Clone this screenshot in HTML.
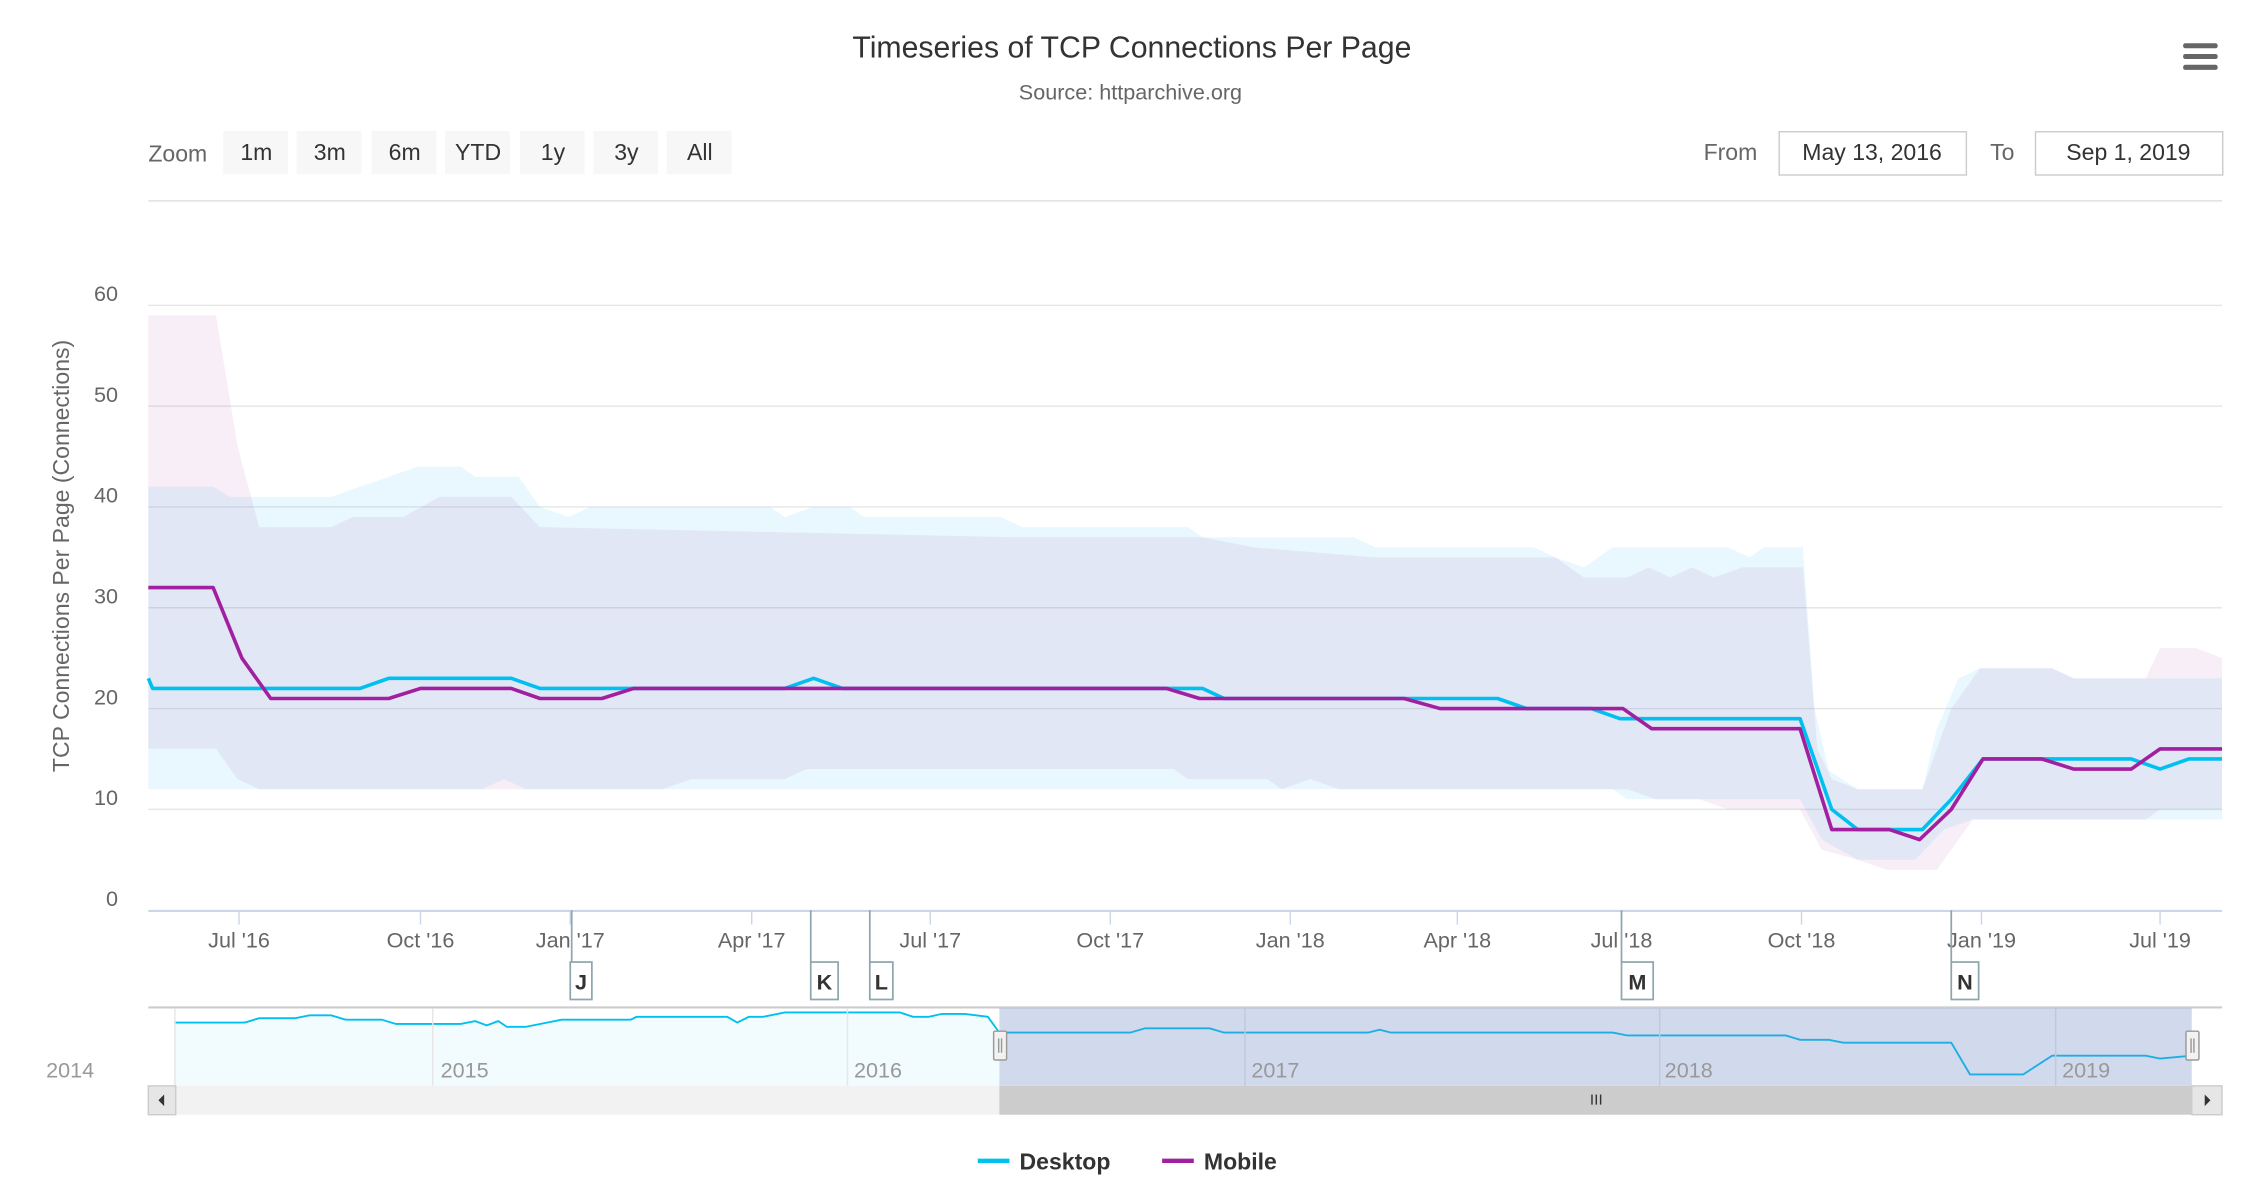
<!DOCTYPE html>
<html><head><meta charset="utf-8"><style>
html,body{margin:0;padding:0;background:#fff;}
svg{display:block;font-family:"Liberation Sans",sans-serif;}
</style></head><body>
<svg width="2258" height="1204" viewBox="0 0 1568 836" preserveAspectRatio="none" xmlns="http://www.w3.org/2000/svg">
<text x="786" y="40" text-anchor="middle" font-size="21" fill="#333">Timeseries of TCP Connections Per Page</text>
<text x="785" y="69" text-anchor="middle" font-size="15" fill="#666">Source: httparchive.org</text>
<g fill="#666"><rect x="1516" y="30" width="24" height="3.5" rx="1.5"/><rect x="1516" y="37.5" width="24" height="3.5" rx="1.5"/><rect x="1516" y="45" width="24" height="3.5" rx="1.5"/></g>
<text x="103" y="112" font-size="16" fill="#666">Zoom</text>
<g font-size="16" fill="#333" text-anchor="middle">
<rect x="155" y="91" width="45" height="30" fill="#f7f7f7"/><text x="178" y="111">1m</text>
<rect x="206" y="91" width="45" height="30" fill="#f7f7f7"/><text x="229" y="111">3m</text>
<rect x="258" y="91" width="45" height="30" fill="#f7f7f7"/><text x="281" y="111">6m</text>
<rect x="309" y="91" width="45" height="30" fill="#f7f7f7"/><text x="332" y="111">YTD</text>
<rect x="361" y="91" width="45" height="30" fill="#f7f7f7"/><text x="384" y="111">1y</text>
<rect x="412" y="91" width="45" height="30" fill="#f7f7f7"/><text x="435" y="111">3y</text>
<rect x="463" y="91" width="45" height="30" fill="#f7f7f7"/><text x="486" y="111">All</text>
</g>
<text x="1183" y="111" font-size="16" fill="#666">From</text>
<rect x="1235.5" y="91.5" width="130" height="30" fill="#fff" stroke="#ccc"/>
<text x="1300" y="111" font-size="16" fill="#333" text-anchor="middle">May 13, 2016</text>
<text x="1382" y="111" font-size="16" fill="#666">To</text>
<rect x="1413.5" y="91.5" width="130" height="30" fill="#fff" stroke="#ccc"/>
<text x="1478" y="111" font-size="16" fill="#333" text-anchor="middle">Sep 1, 2019</text>
<line x1="103" y1="139.5" x2="1543" y2="139.5" stroke="#e0e0e0"/>
<g stroke="#e6e6e6" stroke-width="1">
<line x1="103" y1="212" x2="1543" y2="212"/><line x1="103" y1="282" x2="1543" y2="282"/><line x1="103" y1="352" x2="1543" y2="352"/><line x1="103" y1="422" x2="1543" y2="422"/><line x1="103" y1="492" x2="1543" y2="492"/><line x1="103" y1="562" x2="1543" y2="562"/>
</g>
<g font-size="15" fill="#666" text-anchor="end">
<text x="82" y="209">60</text><text x="82" y="279">50</text><text x="82" y="349">40</text><text x="82" y="419">30</text><text x="82" y="489">20</text><text x="82" y="559">10</text><text x="82" y="629">0</text>
</g>
<text transform="translate(48,386) rotate(-90)" text-anchor="middle" font-size="16" fill="#666">TCP Connections Per Page (Connections)</text>
<polygon fill="rgb(0,180,240)" fill-opacity="0.09" points="103,338 148,338 160,345 230,345 250,338 290,324 320,324 330,331 360,331 375,352 395,359 410,352 535,352 545,359 565,352 590,352 600,359 695,359 710,366 825,366 835,373 940,373 955,380 1065,380 1080,387 1100,394 1120,380 1200,380 1215,387 1225,380 1252,380 1260,492 1270,535 1290,548 1335,548 1345,506 1360,471 1375,464 1425,464 1440,471 1543,471 1543,569 1370,569 1350,576 1330,597 1290,597 1265,583 1250,555 1130,555 1120,548 365,548 350,541 335,548 103,548"/>
<polygon fill="rgb(170,40,150)" fill-opacity="0.08" points="103,219 150,219 165,310 180,366 230,366 245,359 280,359 305,345 355,345 375,366 705,373 835,373 870,380 955,387 1080,387 1100,401 1130,401 1145,394 1160,401 1175,394 1190,401 1210,394 1252,394 1262,520 1272,541 1290,548 1335,548 1355,492 1375,464 1425,464 1440,471 1490,471 1500,450 1525,450 1543,457 1543,562 1500,562 1490,569 1370,569 1345,604 1310,604 1290,597 1265,590 1250,562 1200,562 1180,555 1150,555 1130,548 930,548 910,541 890,548 880,541 825,541 815,534 560,534 545,541 480,541 460,548 180,548 165,541 150,520 103,520"/>
<line x1="103" y1="632.5" x2="1543" y2="632.5" stroke="#ccd6eb" stroke-width="1.5"/>
<g stroke="#ccd6eb"><line x1="166" y1="632" x2="166" y2="642"/><line x1="292" y1="632" x2="292" y2="642"/><line x1="396" y1="632" x2="396" y2="642"/><line x1="522" y1="632" x2="522" y2="642"/><line x1="646" y1="632" x2="646" y2="642"/><line x1="771" y1="632" x2="771" y2="642"/><line x1="896" y1="632" x2="896" y2="642"/><line x1="1012" y1="632" x2="1012" y2="642"/><line x1="1126" y1="632" x2="1126" y2="642"/><line x1="1251" y1="632" x2="1251" y2="642"/><line x1="1376" y1="632" x2="1376" y2="642"/><line x1="1500" y1="632" x2="1500" y2="642"/></g>
<g font-size="15" fill="#666" text-anchor="middle">
<text x="166" y="658">Jul '16</text><text x="292" y="658">Oct '16</text><text x="396" y="658">Jan '17</text><text x="522" y="658">Apr '17</text><text x="646" y="658">Jul '17</text><text x="771" y="658">Oct '17</text><text x="896" y="658">Jan '18</text><text x="1012" y="658">Apr '18</text><text x="1126" y="658">Jul '18</text><text x="1251" y="658">Oct '18</text><text x="1376" y="658">Jan '19</text><text x="1500" y="658">Jul '19</text>
</g>
<polyline fill="none" stroke="#00c0f0" stroke-width="2.5" stroke-linejoin="round" points="103,471 106,478 250,478 270,471 355,471 375,478 545,478 565,471 585,478 835,478 850,485 1040,485 1060,492 1105,492 1125,499 1250,499 1272,562 1290,576 1335,576 1355,555 1377,527 1480,527 1500,534 1520,527 1543,527"/>
<polyline fill="none" stroke="#a020a0" stroke-width="2.5" stroke-linejoin="round" points="103,408 148,408 168,457 188,485 270,485 292,478 355,478 375,485 418,485 440,478 810,478 833,485 975,485 1000,492 1127,492 1147,506 1250,506 1272,576 1312,576 1333,583 1355,562 1377,527 1418,527 1440,534 1480,534 1500,520 1543,520"/>
<g stroke="#8ea6ad" stroke-width="1.2" fill="#fff">
<line x1="397" y1="632" x2="397" y2="668"/><rect x="396" y="668" width="15" height="26"/>
<line x1="563" y1="632" x2="563" y2="668"/><rect x="563" y="668" width="19" height="26"/>
<line x1="604" y1="632" x2="604" y2="668"/><rect x="604" y="668" width="16" height="26"/>
<line x1="1126" y1="632" x2="1126" y2="668"/><rect x="1126" y="668" width="22" height="26"/>
<line x1="1355" y1="632" x2="1355" y2="668"/><rect x="1355" y="668" width="19" height="26"/>
</g>
<g font-size="15" font-weight="bold" fill="#333" text-anchor="middle">
<text x="403.5" y="687">J</text><text x="572.5" y="687">K</text><text x="612" y="687">L</text><text x="1137" y="687">M</text><text x="1364.5" y="687">N</text>
</g>
<line x1="103" y1="699.5" x2="1543" y2="699.5" stroke="#ccc" stroke-width="1.5"/>
<polygon fill="#f2fbfe" points="121,710 170,710 180,707 205,707 215,705 230,705 240,708 265,708 275,711 320,711 330,709 338,712 346,709 352,713 365,713 390,708 438,708 442,706 505,706 512,710 520,706 530,706 545,703 625,703 634,706 645,706 654,704 670,704 686,706 694,720 694,754 121,754"/>
<polyline fill="none" stroke="#00c0f0" stroke-width="1.3" points="121,710 170,710 180,707 205,707 215,705 230,705 240,708 265,708 275,711 320,711 330,709 338,712 346,709 352,713 365,713 390,708 438,708 442,706 505,706 512,710 520,706 530,706 545,703 625,703 634,706 645,706 654,704 670,704 686,706 694,717 785,717 795,714 840,714 850,717 950,717 958,715 966,717 1120,717 1130,719 1240,719 1250,722 1270,722 1280,724 1355,724 1368,746 1405,746 1425,733 1490,733 1500,735 1522,733"/>
<rect x="694" y="700" width="828" height="54" fill="rgb(102,133,194)" fill-opacity="0.3"/>
<g stroke="#e6e6e6"><line x1="121.5" y1="700" x2="121.5" y2="754"/><line x1="300.5" y1="700" x2="300.5" y2="754"/><line x1="588.5" y1="700" x2="588.5" y2="754"/><line x1="864.5" y1="700" x2="864.5" y2="754" stroke="#c0c8dc"/><line x1="1152.5" y1="700" x2="1152.5" y2="754" stroke="#c0c8dc"/><line x1="1427.5" y1="700" x2="1427.5" y2="754" stroke="#c0c8dc"/></g>
<g font-size="15" fill="#999"><text x="32" y="748">2014</text><text x="306" y="748">2015</text><text x="593" y="748">2016</text><text x="869" y="748">2017</text><text x="1156" y="748">2018</text><text x="1432" y="748">2019</text></g>
<g fill="#f2f2f2" stroke="#999"><rect x="690" y="716" width="9" height="20" rx="1"/><rect x="1518" y="716" width="9" height="20" rx="1"/></g>
<g stroke="#999"><line x1="693.5" y1="721" x2="693.5" y2="731"/><line x1="695.5" y1="721" x2="695.5" y2="731"/><line x1="1521.5" y1="721" x2="1521.5" y2="731"/><line x1="1523.5" y1="721" x2="1523.5" y2="731"/></g>
<rect x="103" y="754" width="1440" height="20" fill="#f2f2f2"/>
<rect x="694" y="754" width="828" height="20" fill="#cccccc"/>
<rect x="103" y="754" width="19" height="20" fill="#e6e6e6" stroke="#ccc"/>
<rect x="1522" y="754" width="21" height="20" fill="#e6e6e6" stroke="#ccc"/>
<polygon points="114,760 114,768 110,764" fill="#333"/><polygon points="1531,760 1531,768 1535,764" fill="#333"/>
<g stroke="#333"><line x1="1105.5" y1="760" x2="1105.5" y2="767"/><line x1="1108.5" y1="760" x2="1108.5" y2="767"/><line x1="1111.5" y1="760" x2="1111.5" y2="767"/></g>
<line x1="679" y1="806" x2="701" y2="806" stroke="#00c0f0" stroke-width="3"/>
<text x="708" y="812" font-size="16" font-weight="bold" fill="#333">Desktop</text>
<line x1="807" y1="806" x2="829" y2="806" stroke="#a020a0" stroke-width="3"/>
<text x="836" y="812" font-size="16" font-weight="bold" fill="#333">Mobile</text>
</svg>
</body></html>
